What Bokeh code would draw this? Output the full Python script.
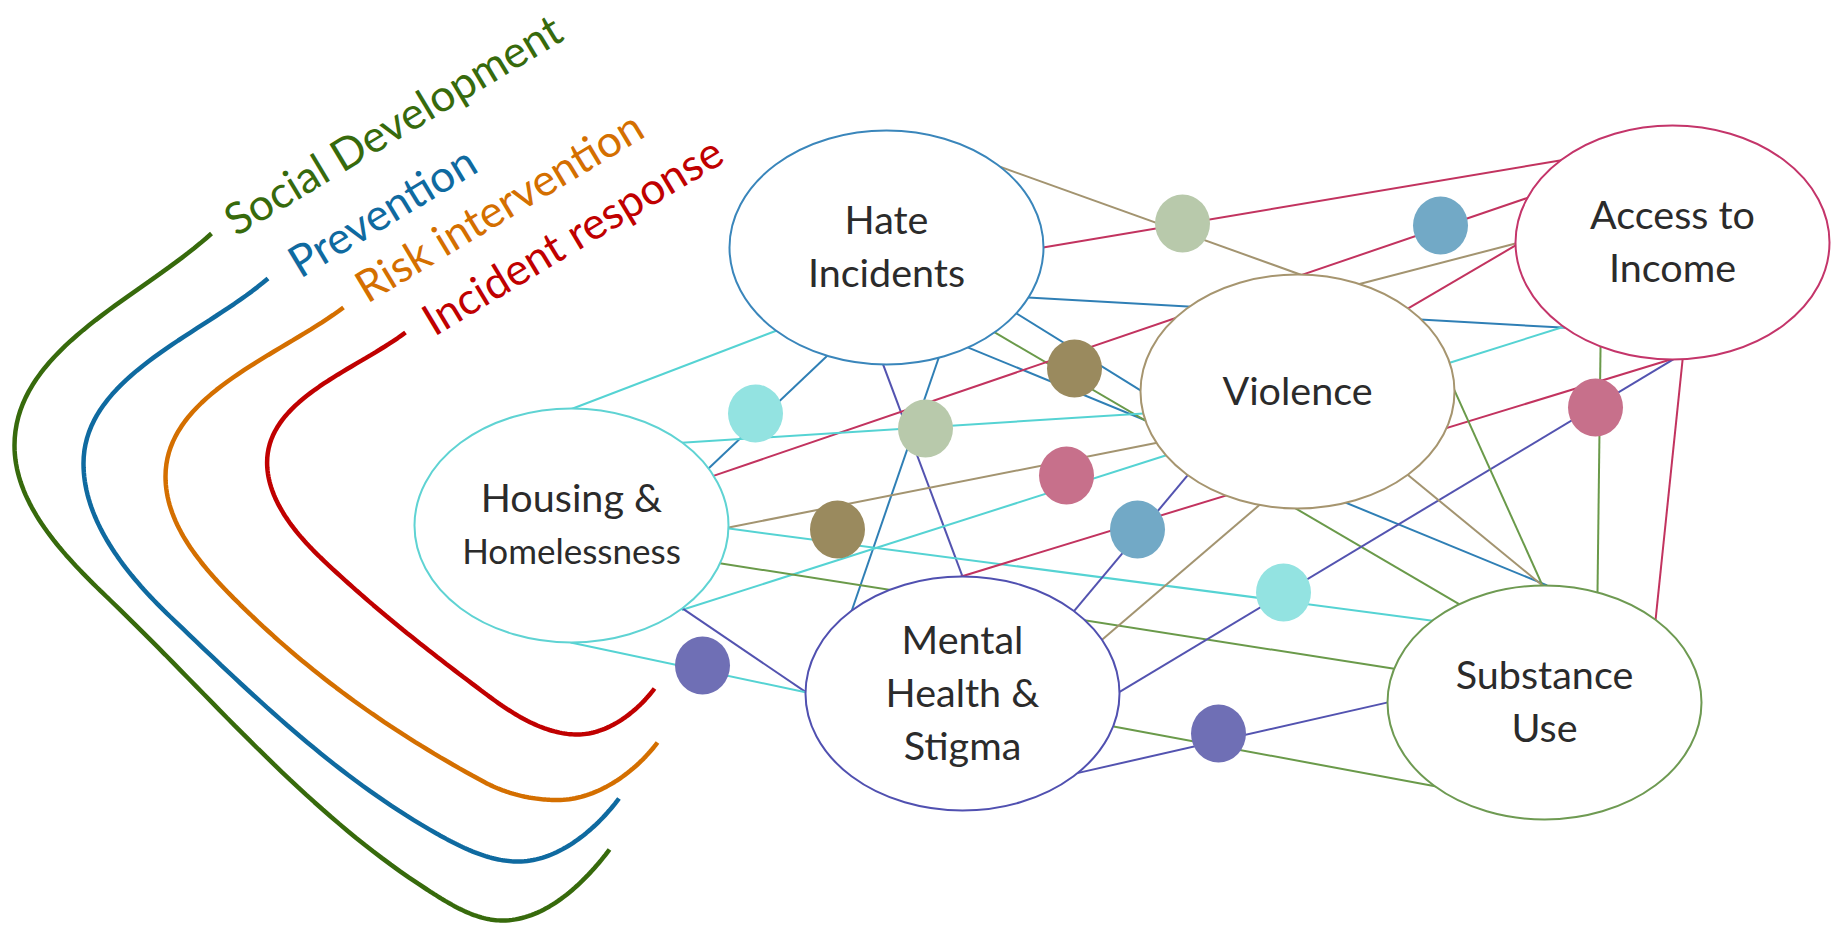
import numpy as np
from bokeh.plotting import figure
from bokeh.models import Range1d
from bokeh.core.properties import value
from bokeh.embed import file_html
from bokeh.resources import INLINE

# ---------------- data ----------------
node_lines = [["Hate", "Incidents"], ["Access to", "Income"], ["Violence"],
              ["Housing &", "Homelessness"], ["Mental", "Health &", "Stigma"],
              ["Substance", "Use"]]
node_line_sizes = [[39.5, 39.5], [39.5, 39.5], [39.5], [39.5, 35], [39.5, 39.5, 39.5], [39.5, 39.5]]
node_x = [886, 1672, 1297, 571, 962, 1544]
node_y = [247, 242, 391, 525, 693, 702]
node_colors = ["#3a86bb", "#c4356a", "#a6956f", "#5fd3d3", "#5050b0", "#6e9a52"]

palette = {"tan": "#a39470", "crimson": "#c2335f", "blue": "#2f7fb5",
           "cyan": "#55d3d3", "purple": "#5353b0", "green": "#6a9a4a"}

edge_x0 = [996, 1043, 1028, 1016, 970, 996, 771, 825, 883, 939, 714, 686, 728, 686, 728, 721,
           682, 575, 1074, 1103, 964, 1118, 1118, 1075, 1361, 1409, 1450, 1454, 1408, 1600, 1682]
edge_y0 = [165, 247, 297, 313, 348, 333, 332, 357, 365, 355, 475, 442, 527, 608, 528, 563,
           608, 643, 610, 638, 575, 692, 727, 773, 283, 307, 362, 390, 475, 350, 360]
edge_x1 = [1297, 1559, 1561, 1145, 1542, 1456, 575, 709, 962, 852, 1528, 1142, 1153, 1165, 1431, 1392,
           806, 806, 1187, 1256, 1667, 1671, 1431, 1387, 1515, 1515, 1561, 1542, 1542, 1597, 1655]
edge_y1 = [273, 160, 327, 393, 583, 602, 407, 467, 576, 608, 197, 413, 443, 455, 620, 668,
           692, 692, 475, 507, 360, 360, 785, 702, 243, 245, 327, 585, 585, 592, 620]
edge_kind = ["tan", "crimson", "blue", "blue", "blue", "green", "cyan", "blue", "purple", "blue",
             "crimson", "cyan", "tan", "cyan", "cyan", "green", "purple", "cyan", "purple", "tan",
             "crimson", "purple", "green", "purple", "tan", "crimson", "cyan", "green", "tan",
             "green", "crimson"]

dot_x = [1182, 1440, 1074, 755, 925, 1066, 837, 1137, 1283, 1595, 702, 1218]
dot_y = [223, 225, 368, 413, 428, 475, 529, 529, 592, 407, 665, 733]
dot_colors = ["#b8c9ab", "#72a9c6", "#9a8a5e", "#93e3e1", "#b8c9ab", "#c7708b",
              "#9a8a5e", "#72a9c6", "#93e3e1", "#c7708b", "#6f6fb5", "#6f6fb5"]

label_texts = ["Social Development", "Prevention", "Risk intervention", "Incident response"]
label_x = [227, 291, 358, 425]
label_y = [222, 264, 289, 322]
label_colors = ["#376a0c", "#0f6aa0", "#d46f00", "#c00000"]

# bracket curves: anchor (x, y) with travel direction (dx, dy)
green_path = [(211, 233, -0.74, 0.67), (14, 445, 0, 1), (110, 600, 0.72, 0.69),
              (426.5, 889, 0.84, 0.54), (502, 920, 1, 0), (609, 849, 0.6, -0.8)]
blue_path = [(267.5, 278, -0.76, 0.65), (83, 463, 0, 1), (169.6, 616, 0.72, 0.69),
             (436, 833, 0.87, 0.49), (517.6, 861, 1, 0), (618.5, 798, 0.6, -0.8)]
orange_path = [(343, 307, -0.8, 0.6), (165, 476, 0, 1), (252, 616, 0.72, 0.69),
               (484.7, 782, 0.88, 0.47), (557, 799.5, 1, 0), (657, 742, 0.6, -0.8)]
red_path = [(405, 332, -0.8, 0.6), (266.6, 462, 0, 1), (320, 557, 0.72, 0.69),
            (484.7, 693, 0.8, 0.6), (577, 734, 1, 0), (654, 688, 0.6, -0.8)]
curve_paths = [green_path, blue_path, orange_path, red_path]


# ---------------- helpers ----------------
def hermite_path(anchors, n=40):
    xs, ys = [], []
    t = np.linspace(0, 1, n)
    for (x0, y0, dx0, dy0), (x1, y1, dx1, dy1) in zip(anchors[:-1], anchors[1:]):
        d0 = np.array([dx0, dy0], float); d0 /= np.hypot(*d0)
        d1 = np.array([dx1, dy1], float); d1 /= np.hypot(*d1)
        P0 = np.array([x0, y0], float); P3 = np.array([x1, y1], float)
        h = np.hypot(*(P3 - P0)) / 3.0
        P1 = P0 + d0 * h
        P2 = P3 - d1 * h
        B = ((1 - t) ** 3)[:, None] * P0 + (3 * t * (1 - t) ** 2)[:, None] * P1 \
            + (3 * t ** 2 * (1 - t))[:, None] * P2 + (t ** 3)[:, None] * P3
        xs.extend(B[:, 0].tolist()); ys.extend(B[:, 1].tolist())
    return xs, ys


W, H = 1835, 930
p = figure(width=W, height=H, x_range=Range1d(0, W), y_range=Range1d(H, 0),
           output_backend="svg", toolbar_location=None,
           x_axis_location=None, y_axis_location=None, min_border=0)
p.outline_line_color = None
p.background_fill_color = "white"
p.border_fill_color = "white"
p.xgrid.grid_line_color = None
p.ygrid.grid_line_color = None

# curves
cx, cy = [], []
for path in curve_paths:
    xs, ys = hermite_path(path)
    cx.append(xs); cy.append(ys)
p.multi_line(xs=cx, ys=cy, line_color=label_colors, line_width=4.5)

# edges (slightly extended so they tuck under the node outlines)
ex0, ey0, ex1, ey1 = [], [], [], []
for a, b, c, d in zip(edge_x0, edge_y0, edge_x1, edge_y1):
    v = np.array([c - a, d - b], dtype=float)
    v /= np.hypot(*v)
    ex0.append(a - 5 * v[0]); ey0.append(b - 5 * v[1])
    ex1.append(c + 5 * v[0]); ey1.append(d + 5 * v[1])
p.segment(x0=ex0, y0=ey0, x1=ex1, y1=ey1,
          line_color=[palette[k] for k in edge_kind], line_width=2)

# nodes
p.ellipse(x=node_x, y=node_y, width=314, height=234, fill_color="white",
          line_color=node_colors, line_width=2)

# dots
p.ellipse(x=dot_x, y=dot_y, width=55, height=58, fill_color=dot_colors, line_color=None)

# node labels
tx, ty, tt, ts = [], [], [], []
for x, y, lines, sizes in zip(node_x, node_y, node_lines, node_line_sizes):
    n = len(lines)
    for i, (s, fs) in enumerate(zip(lines, sizes)):
        tx.append(x)
        ty.append(y + (i - (n - 1) / 2) * 53 - 2.5)
        tt.append(s)
        ts.append(f"{fs}px")
p.text(x=tx, y=ty, text=tt, text_font=value("Lato"), text_font_size=ts,
       text_color="#2b2b2b", text_align="center", text_baseline="alphabetic")

# level labels
p.text(x=label_x, y=label_y, text=label_texts, angle=31, angle_units="deg",
       text_font=value("Lato"), text_font_size="44px", text_color=label_colors,
       text_align="left", text_baseline="alphabetic")

open("out.html", "w").write(file_html(p, INLINE))
